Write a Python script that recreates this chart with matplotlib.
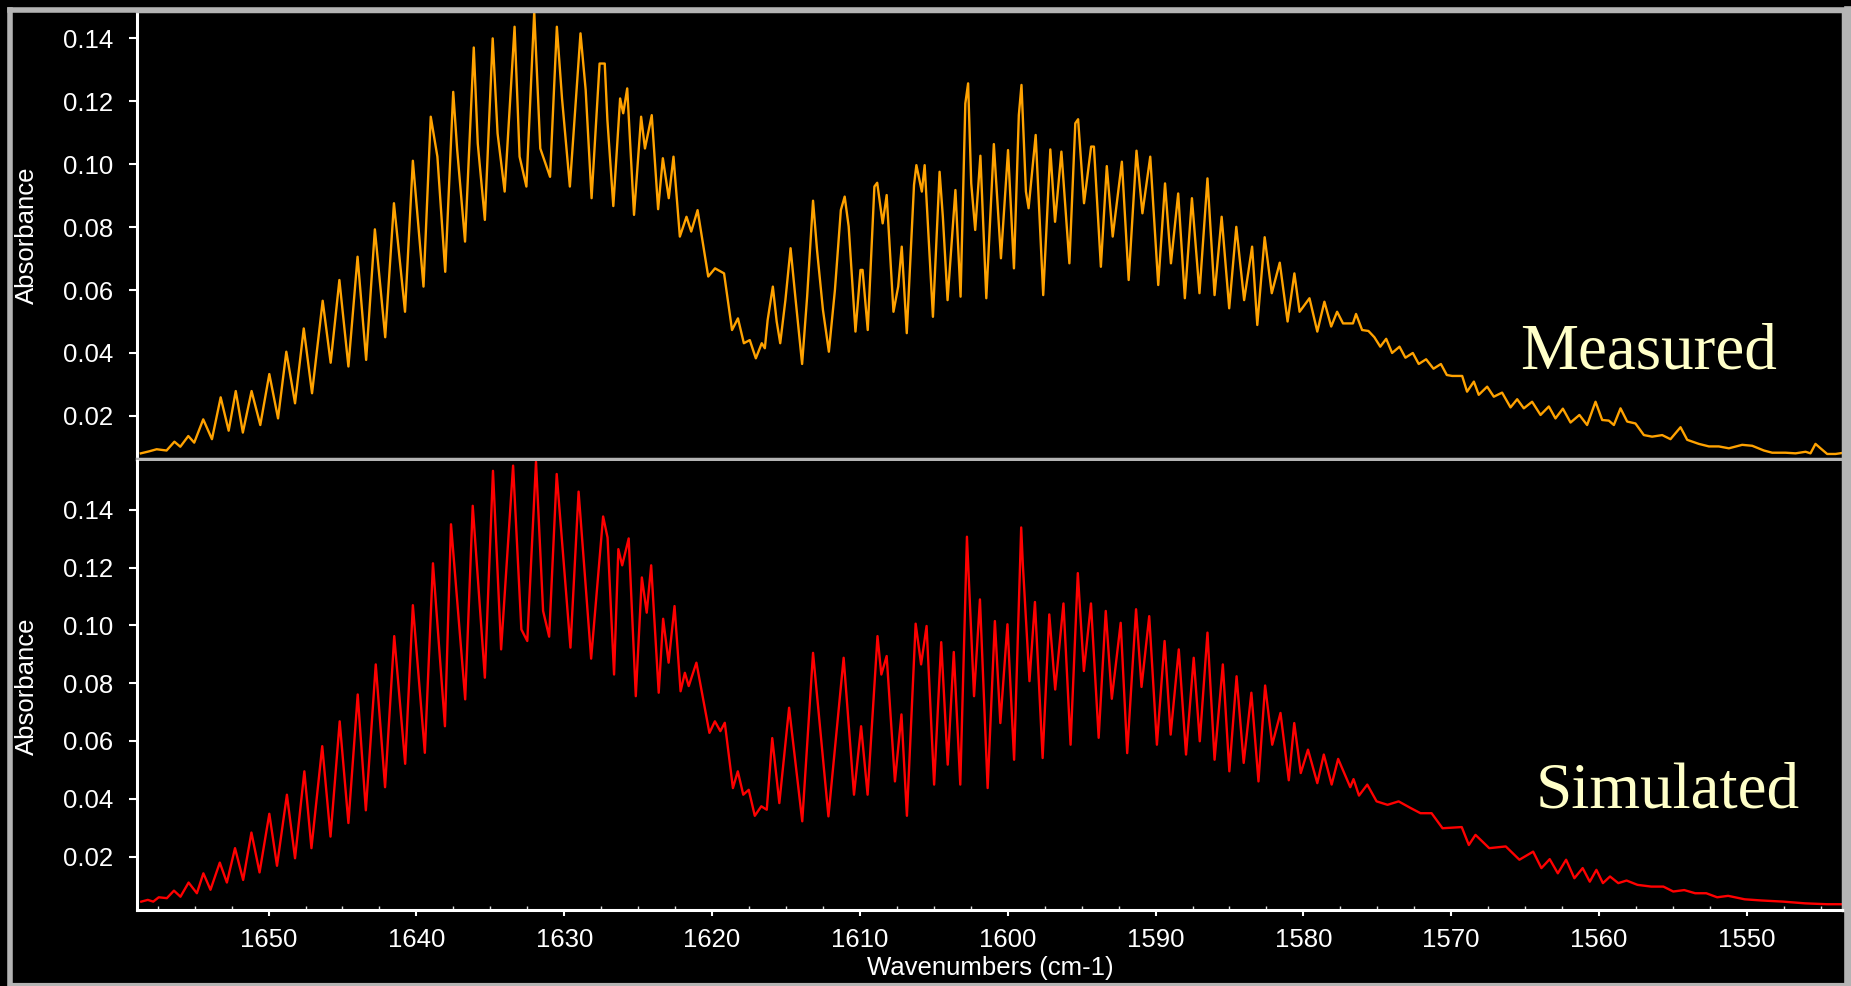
import matplotlib
matplotlib.use("Agg")
import matplotlib.pyplot as plt
from matplotlib.lines import Line2D
from matplotlib.ticker import FixedLocator, MultipleLocator, FormatStrFormatter

plt.rcParams['font.family'] = ['Liberation Sans', 'DejaVu Sans']

# measured spectrum (peaks / troughs)
measured_wn = [
    1658.64, 1658.11, 1657.57, 1656.90, 1656.37, 1655.97, 1655.43, 1655.03, 1654.42, 1653.83,
    1653.24, 1652.70, 1652.22, 1651.74, 1651.15, 1650.56, 1649.95, 1649.36, 1648.80, 1648.21,
    1647.62, 1647.06, 1646.34, 1645.80, 1645.21, 1644.60, 1643.98, 1643.40, 1642.81, 1642.11,
    1641.52, 1640.77, 1640.24, 1639.52, 1639.03, 1638.58, 1638.05, 1637.51, 1637.24, 1636.71,
    1636.12, 1635.85, 1635.37, 1634.84, 1634.51, 1634.03, 1633.36, 1633.02, 1632.56, 1632.03,
    1631.62, 1630.96, 1630.50, 1630.15, 1629.62, 1628.90, 1628.55, 1628.15, 1627.61, 1627.26,
    1627.08, 1626.68, 1626.22, 1626.01, 1625.74, 1625.28, 1624.80, 1624.54, 1624.08, 1623.65,
    1623.33, 1622.93, 1622.61, 1622.18, 1621.73, 1621.41, 1620.98, 1620.26, 1619.80, 1619.19,
    1618.65, 1618.25, 1617.85, 1617.45, 1617.04, 1616.64, 1616.43, 1616.24, 1615.89, 1615.63,
    1615.39, 1615.04, 1614.69, 1614.37, 1613.91, 1613.57, 1613.17, 1612.90, 1612.50, 1612.10,
    1611.69, 1611.29, 1611.03, 1610.76, 1610.30, 1609.96, 1609.82, 1609.47, 1609.02, 1608.83,
    1608.46, 1608.19, 1607.73, 1607.41, 1607.17, 1606.83, 1606.34, 1606.18, 1605.81, 1605.62,
    1605.06, 1604.61, 1604.39, 1604.07, 1603.54, 1603.19, 1602.87, 1602.68, 1602.47, 1602.20,
    1601.85, 1601.45, 1600.94, 1600.46, 1599.98, 1599.58, 1599.25, 1599.07, 1598.77, 1598.59,
    1598.11, 1597.60, 1597.12, 1596.80, 1596.37, 1595.83, 1595.43, 1595.24, 1594.84, 1594.36,
    1594.17, 1593.70, 1593.30, 1592.90, 1592.28, 1591.82, 1591.29, 1590.89, 1590.36, 1589.82,
    1589.36, 1588.96, 1588.47, 1588.02, 1587.54, 1587.03, 1586.49, 1586.01, 1585.53, 1585.02,
    1584.54, 1584.01, 1583.47, 1583.12, 1582.62, 1582.14, 1581.60, 1581.07, 1580.61, 1580.26,
    1579.59, 1579.06, 1578.58, 1578.12, 1577.72, 1577.32, 1576.65, 1576.44, 1576.03, 1575.60,
    1575.20, 1574.80, 1574.40, 1574.00, 1573.50, 1573.10, 1572.60, 1572.20, 1571.70, 1571.20,
    1570.70, 1570.30, 1569.94, 1569.26, 1568.93, 1568.47, 1568.14, 1567.57, 1567.12, 1566.56,
    1565.99, 1565.54, 1565.09, 1564.53, 1563.96, 1563.40, 1562.95, 1562.45, 1561.93, 1561.33,
    1560.81, 1560.24, 1559.79, 1559.34, 1559.00, 1558.55, 1558.10, 1557.54, 1556.97, 1556.41,
    1555.73, 1555.17, 1554.49, 1554.04, 1553.25, 1552.57, 1551.90, 1551.22, 1550.32, 1549.64,
    1548.85, 1548.29, 1547.39, 1546.71, 1546.03, 1545.70, 1545.36, 1545.02, 1544.57, 1544.00,
    1543.44,
]
measured_abs = [
    0.0081, 0.0087, 0.0094, 0.0090, 0.0118, 0.0102, 0.0136, 0.0115, 0.0189, 0.0126,
    0.0259, 0.0153, 0.0279, 0.0147, 0.0279, 0.0171, 0.0333, 0.0192, 0.0404, 0.0240,
    0.0478, 0.0272, 0.0566, 0.0369, 0.0632, 0.0357, 0.0706, 0.0378, 0.0793, 0.0450,
    0.0876, 0.0531, 0.1011, 0.0611, 0.1151, 0.1024, 0.0658, 0.1230, 0.1045, 0.0754,
    0.1371, 0.1066, 0.0823, 0.1400, 0.1098, 0.0913, 0.1437, 0.1024, 0.0929, 0.1485,
    0.1050, 0.0960, 0.1437, 0.1209, 0.0929, 0.1416, 0.1236, 0.0892, 0.1320, 0.1320,
    0.1140, 0.0867, 0.1209, 0.1162, 0.1241, 0.0839, 0.1151, 0.1050, 0.1156, 0.0857,
    0.1019, 0.0892, 0.1024, 0.0770, 0.0833, 0.0786, 0.0854, 0.0643, 0.0669, 0.0653,
    0.0473, 0.0510, 0.0431, 0.0441, 0.0383, 0.0431, 0.0415, 0.0505, 0.0611, 0.0500,
    0.0431, 0.0568, 0.0733, 0.0579, 0.0365, 0.0579, 0.0884, 0.0727, 0.0537, 0.0404,
    0.0600, 0.0854, 0.0897, 0.0802, 0.0468, 0.0664, 0.0664, 0.0473, 0.0929, 0.0941,
    0.0812, 0.0902, 0.0531, 0.0611, 0.0738, 0.0463, 0.0934, 0.0997, 0.0913, 0.0997,
    0.0515, 0.0976, 0.0833, 0.0568, 0.0918, 0.0579, 0.1193, 0.1257, 0.0939, 0.0791,
    0.1027, 0.0574, 0.1064, 0.0701, 0.1045, 0.0669, 0.1156, 0.1252, 0.0913, 0.0860,
    0.1093, 0.0584, 0.1047, 0.0817, 0.1040, 0.0685, 0.1130, 0.1143, 0.0876, 0.1056,
    0.1056, 0.0674, 0.0994, 0.0770, 0.1008, 0.0632, 0.1043, 0.0844, 0.1024, 0.0616,
    0.0939, 0.0685, 0.0907, 0.0574, 0.0892, 0.0590, 0.0955, 0.0584, 0.0833, 0.0542,
    0.0801, 0.0568, 0.0738, 0.0489, 0.0768, 0.0590, 0.0687, 0.0500, 0.0653, 0.0531,
    0.0574, 0.0468, 0.0563, 0.0484, 0.0531, 0.0494, 0.0494, 0.0524, 0.0473, 0.0470,
    0.0450, 0.0420, 0.0445, 0.0400, 0.0420, 0.0385, 0.0400, 0.0365, 0.0380, 0.0350,
    0.0365, 0.0330, 0.0327, 0.0327, 0.0277, 0.0309, 0.0267, 0.0293, 0.0261, 0.0274,
    0.0227, 0.0253, 0.0224, 0.0245, 0.0203, 0.0230, 0.0192, 0.0223, 0.0179, 0.0203,
    0.0171, 0.0245, 0.0187, 0.0185, 0.0171, 0.0224, 0.0182, 0.0176, 0.0139, 0.0134,
    0.0139, 0.0126, 0.0164, 0.0124, 0.0111, 0.0103, 0.0103, 0.0097, 0.0108, 0.0105,
    0.0090, 0.0083, 0.0083, 0.0081, 0.0086, 0.0081, 0.0111, 0.0097, 0.0079, 0.0079,
    0.0083,
]

# simulated spectrum
simulated_wn = [
    1658.61, 1658.17, 1657.80, 1657.43, 1656.88, 1656.40, 1655.96, 1655.41, 1654.85, 1654.41,
    1653.93, 1653.30, 1652.82, 1652.27, 1651.72, 1651.16, 1650.61, 1649.95, 1649.43, 1648.76,
    1648.21, 1647.58, 1647.10, 1646.37, 1645.81, 1645.19, 1644.60, 1643.97, 1643.42, 1642.75,
    1642.12, 1641.50, 1640.76, 1640.24, 1639.43, 1638.88, 1638.07, 1637.66, 1636.70, 1636.19,
    1635.37, 1634.82, 1634.27, 1633.46, 1632.90, 1632.50, 1631.91, 1631.43, 1631.02, 1630.51,
    1629.58, 1629.03, 1628.18, 1627.37, 1627.07, 1626.63, 1626.34, 1626.08, 1625.64, 1625.16,
    1624.75, 1624.42, 1624.12, 1623.61, 1623.31, 1622.94, 1622.54, 1622.13, 1621.84, 1621.58,
    1621.06, 1620.18, 1619.81, 1619.44, 1619.14, 1618.59, 1618.26, 1617.89, 1617.52, 1617.11,
    1616.67, 1616.30, 1615.93, 1615.45, 1614.79, 1613.90, 1613.17, 1612.13, 1611.10, 1610.40,
    1609.92, 1609.48, 1608.81, 1608.55, 1608.19, 1607.63, 1607.19, 1606.82, 1606.23, 1605.86,
    1605.49, 1604.98, 1604.50, 1604.06, 1603.65, 1603.21, 1602.76, 1602.28, 1601.88, 1601.36,
    1600.87, 1600.50, 1600.02, 1599.57, 1599.09, 1598.98, 1598.53, 1598.16, 1597.64, 1597.19,
    1596.79, 1596.23, 1595.75, 1595.26, 1594.85, 1594.37, 1593.85, 1593.37, 1592.96, 1592.36,
    1591.92, 1591.32, 1590.95, 1590.43, 1589.91, 1589.39, 1588.98, 1588.43, 1587.94, 1587.42,
    1587.01, 1586.49, 1586.01, 1585.45, 1585.01, 1584.52, 1584.04, 1583.52, 1583.04, 1582.59,
    1582.11, 1581.55, 1580.99, 1580.62, 1580.18, 1579.69, 1579.06, 1578.62, 1578.09, 1577.65,
    1576.83, 1576.61, 1576.24, 1575.68, 1575.05, 1574.31, 1573.56, 1572.75, 1572.08, 1571.33,
    1570.59, 1569.29, 1568.81, 1568.36, 1567.43, 1566.31, 1565.39, 1564.46, 1563.90, 1563.34,
    1562.79, 1562.23, 1561.67, 1561.11, 1560.63, 1560.18, 1559.74, 1559.26, 1558.70, 1558.14,
    1557.40, 1556.47, 1555.65, 1554.98, 1554.24, 1553.50, 1552.75, 1552.01, 1551.27, 1550.15,
    1549.03, 1547.55, 1546.06, 1544.58, 1543.46,
]
simulated_abs = [
    0.0044, 0.0050, 0.0044, 0.0059, 0.0056, 0.0082, 0.0061, 0.0110, 0.0073, 0.0142,
    0.0085, 0.0179, 0.0110, 0.0229, 0.0119, 0.0283, 0.0145, 0.0348, 0.0168, 0.0414,
    0.0194, 0.0495, 0.0229, 0.0582, 0.0269, 0.0668, 0.0316, 0.0761, 0.0360, 0.0865,
    0.0440, 0.0963, 0.0521, 0.1070, 0.0559, 0.1215, 0.0651, 0.1350, 0.0744, 0.1414,
    0.0819, 0.1535, 0.0917, 0.1553, 0.0986, 0.0946, 0.1567, 0.1050, 0.0961, 0.1524,
    0.0923, 0.1463, 0.0885, 0.1377, 0.1304, 0.0830, 0.1264, 0.1208, 0.1301, 0.0755,
    0.1166, 0.1044, 0.1208, 0.0767, 0.1023, 0.0871, 0.1067, 0.0772, 0.0836, 0.0790,
    0.0871, 0.0628, 0.0668, 0.0634, 0.0663, 0.0437, 0.0495, 0.0414, 0.0431, 0.0341,
    0.0374, 0.0362, 0.0610, 0.0385, 0.0715, 0.0322, 0.0905, 0.0339, 0.0888, 0.0414,
    0.0651, 0.0414, 0.0963, 0.0830, 0.0894, 0.0460, 0.0692, 0.0341, 0.1006, 0.0865,
    0.0998, 0.0449, 0.0942, 0.0518, 0.0908, 0.0449, 0.1307, 0.0755, 0.1090, 0.0437,
    0.1015, 0.0662, 0.1004, 0.0535, 0.1339, 0.1212, 0.0807, 0.1081, 0.0541, 0.1038,
    0.0778, 0.1076, 0.0587, 0.1181, 0.0842, 0.1076, 0.0611, 0.1050, 0.0746, 0.1009,
    0.0558, 0.1056, 0.0787, 0.1032, 0.0587, 0.0946, 0.0622, 0.0917, 0.0553, 0.0888,
    0.0599, 0.0975, 0.0535, 0.0865, 0.0495, 0.0824, 0.0524, 0.0767, 0.0460, 0.0792,
    0.0587, 0.0697, 0.0464, 0.0662, 0.0489, 0.0570, 0.0454, 0.0553, 0.0449, 0.0538,
    0.0440, 0.0468, 0.0411, 0.0449, 0.0391, 0.0379, 0.0391, 0.0368, 0.0350, 0.0350,
    0.0298, 0.0302, 0.0240, 0.0275, 0.0229, 0.0235, 0.0189, 0.0217, 0.0160, 0.0191,
    0.0142, 0.0189, 0.0125, 0.0160, 0.0113, 0.0154, 0.0108, 0.0131, 0.0108, 0.0117,
    0.0102, 0.0096, 0.0096, 0.0079, 0.0084, 0.0073, 0.0073, 0.0059, 0.0064, 0.0052,
    0.0048, 0.0044, 0.0038, 0.0035, 0.0035,
]

x_ticks = [1650, 1640, 1630, 1620, 1610, 1600, 1590, 1580, 1570, 1560, 1550]
y_ticks = [0.02, 0.04, 0.06, 0.08, 0.10, 0.12, 0.14]

W, H = 1851, 986
fig = plt.figure(figsize=(W / 100, H / 100), dpi=100, facecolor='black')

left = 137 / W
width = (1843 - 137) / W
ax1 = fig.add_axes([left, 1 - 459 / H, width, (459 - 11) / H])
ax2 = fig.add_axes([left, 1 - 910 / H, width, (910 - 461) / H])

gray = '#b4b4b4'

ax1.plot(measured_wn, measured_abs, color='#ffa200', lw=1.7)
ax2.plot(simulated_wn, simulated_abs, color='#ff0000', lw=1.7)

ax1.set_ylim(0.0063, 0.1487)
ax2.set_ylim(0.0015, 0.1569)

for ax in (ax1, ax2):
    ax.set_facecolor('black')
    ax.set_xlim(1658.9, 1543.5)
    ax.yaxis.set_major_locator(FixedLocator(y_ticks))
    ax.yaxis.set_major_formatter(FormatStrFormatter('%.2f'))
    ax.tick_params(axis='y', colors='white', labelcolor='white', labelsize=18.5,
                   direction='out', length=6, width=1.5, pad=11)
    ax.xaxis.set_major_locator(FixedLocator(x_ticks))
    ax.xaxis.set_minor_locator(MultipleLocator(2.5))
    ax.spines['left'].set_color('white')
    ax.spines['left'].set_linewidth(2.2)
    for side in ('top', 'right'):
        ax.spines[side].set_color(gray)
        ax.spines[side].set_linewidth(2.5)

ax1.spines['bottom'].set_color(gray)
ax1.spines['bottom'].set_linewidth(2.5)
ax1.tick_params(axis='x', which='both', bottom=False, labelbottom=False)
ax2.spines['top'].set_visible(False)

ax2.spines['bottom'].set_color('white')
ax2.spines['bottom'].set_linewidth(2.2)
ax2.tick_params(axis='x', which='major', colors='white', labelcolor='white',
                labelsize=18.5, direction='out', length=4, width=1.5, pad=9)
ax2.tick_params(axis='x', which='minor', colors='#dddddd', direction='in',
                length=3, width=1)

ax1.text(0.886, 0.203, 'Measured', transform=ax1.transAxes, ha='center',
         va='baseline', fontsize=47, color='#ffffc8',
         family=['Liberation Serif', 'DejaVu Serif'])
ax2.text(0.897, 0.229, 'Simulated', transform=ax2.transAxes, ha='center',
         va='baseline', fontsize=47, color='#ffffc8',
         family=['Liberation Serif', 'DejaVu Serif'])

fig.text(27 / W, 1 - 235 / H, 'Absorbance', rotation=90, ha='center', va='center',
         fontsize=18.5, color='white')
fig.text(27 / W, 1 - 686 / H, 'Absorbance', rotation=90, ha='center', va='center',
         fontsize=18.5, color='white')
fig.text(990 / W, 1 - 968 / H, 'Wavenumbers (cm-1)', ha='center', va='center',
         fontsize=18.5, color='white')

# window frame
fig.add_artist(Line2D([9.5 / W, 9.5 / W], [0, 1 - 9.5 / H], transform=fig.transFigure,
                      color=gray, lw=4))
fig.add_artist(Line2D([9.5 / W, 1], [1 - 9.5 / H, 1 - 9.5 / H], transform=fig.transFigure,
                      color=gray, lw=4))
fig.add_artist(Line2D([1847.5 / W, 1847.5 / W], [0, 1 - 9.5 / H], transform=fig.transFigure,
                      color=gray, lw=5.5))
fig.add_artist(Line2D([9.5 / W, 1], [1.5 / H, 1.5 / H], transform=fig.transFigure,
                      color=gray, lw=3))

fig.savefig('out.png', dpi=100, facecolor='black')
